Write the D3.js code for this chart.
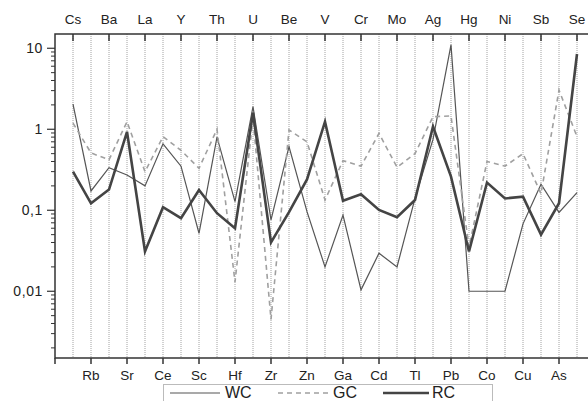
<!DOCTYPE html>
<html>
<head>
<meta charset="utf-8">
<script src="https://cdn.jsdelivr.net/npm/d3@7"></script>
<style>
  body { margin: 0; background: #fff; }
  svg { display: block; font-family: Arial, "Liberation Sans", sans-serif; }
</style>
</head>
<body>
<div id="chart"></div>
<script>
const elements = ["Cs","Rb","Ba","Sr","La","Ce","Y","Sc","Th","Hf","U","Zr","Be","Zn","V","Ga","Cr","Cd","Mo","Tl","Ag","Pb","Hg","Co","Ni","Cu","Sb","As","Se"];

const wc = [2.05,0.173,0.336,0.273,0.20,0.66,0.35,0.052,0.80,0.128,1.9,0.076,0.61,0.096,0.020,0.087,0.0104,0.0295,0.020,0.14,0.75,11,0.01,0.01,0.01,0.068,0.21,0.094,0.165];
const gc = [1.19,0.51,0.42,1.24,0.30,0.81,0.55,0.33,1.0,0.013,1.4,0.0045,0.98,0.70,0.134,0.41,0.35,0.89,0.34,0.5,1.43,1.46,0.035,0.40,0.35,0.50,0.16,3.05,0.81];
const rc = [0.30,0.122,0.18,0.93,0.031,0.109,0.080,0.178,0.092,0.060,1.6,0.040,0.095,0.24,1.24,0.131,0.158,0.101,0.082,0.134,1.08,0.26,0.031,0.22,0.14,0.147,0.050,0.122,8.5];

const majorTicks = [0.01, 0.1, 1, 10];

const width = 588, height = 401;
const frame = { left: 55, right: 595, top: 34, bottom: 358 };

const svg = d3.select("#chart").append("svg")
  .attr("width", width)
  .attr("height", height);

const x = d3.scalePoint().domain(elements).range([73, 577]);
const y = d3.scaleLog().domain([0.0015, 15]).range([frame.bottom, frame.top]);

// dotted verticals at every element
svg.append("g")
  .selectAll("line")
  .data(elements)
  .join("line")
  .attr("x1", d => x(d)).attr("x2", d => x(d))
  .attr("y1", frame.top).attr("y2", frame.bottom)
  .attr("stroke", "#8a8a8a")
  .attr("stroke-width", 0.8)
  .attr("stroke-dasharray", "1,1");

// minor ticks on the log axis
const minorTicks = [];
[0.001, 0.01, 0.1, 1, 10].forEach(base => {
  for (let k = 2; k <= 9; k++) {
    const v = base * k;
    if (v >= y.domain()[0] && v <= y.domain()[1]) minorTicks.push(v);
  }
});

const axisG = svg.append("g").attr("stroke", "#333");

axisG.selectAll(".minor")
  .data(minorTicks)
  .join("line")
  .attr("class", "minor")
  .attr("x1", frame.left - 4).attr("x2", frame.left)
  .attr("y1", d => y(d)).attr("y2", d => y(d))
  .attr("stroke-width", 1);

axisG.selectAll(".major")
  .data(majorTicks)
  .join("line")
  .attr("class", "major")
  .attr("x1", frame.left - 8).attr("x2", frame.left)
  .attr("y1", d => y(d)).attr("y2", d => y(d))
  .attr("stroke-width", 1.2);

svg.append("g")
  .selectAll("text")
  .data(majorTicks)
  .join("text")
  .attr("x", frame.left - 12)
  .attr("y", d => y(d) + 5)
  .attr("text-anchor", "end")
  .attr("font-size", 14)
  .attr("letter-spacing", 0.6)
  .attr("fill", "#222")
  .text(d => String(d).replace(".", ","));

// frame lines: left, top, bottom
svg.append("path")
  .attr("d", `M${frame.right},${frame.top}H${frame.left}V${frame.bottom}H${frame.right}`)
  .attr("fill", "none")
  .attr("stroke", "#333")
  .attr("stroke-width", 1.5);

const topEls = elements.filter((d, i) => i % 2 === 0);
const bottomEls = elements.filter((d, i) => i % 2 === 1);

// top ticks point inward, bottom ticks point outward
axisG.selectAll(".ttick")
  .data(topEls)
  .join("line")
  .attr("class", "ttick")
  .attr("x1", d => x(d)).attr("x2", d => x(d))
  .attr("y1", frame.top).attr("y2", frame.top + 7)
  .attr("stroke-width", 1.5);

axisG.selectAll(".btick")
  .data(bottomEls.concat(["__left"]))
  .join("line")
  .attr("class", "btick")
  .attr("x1", d => d === "__left" ? frame.left : x(d))
  .attr("x2", d => d === "__left" ? frame.left : x(d))
  .attr("y1", frame.bottom).attr("y2", frame.bottom + 6)
  .attr("stroke-width", 1.5);

svg.append("g")
  .selectAll("text")
  .data(topEls)
  .join("text")
  .attr("x", d => x(d))
  .attr("y", 24)
  .attr("text-anchor", "middle")
  .attr("font-size", 13.5)
  .attr("fill", "#222")
  .text(d => d);

svg.append("g")
  .selectAll("text")
  .data(bottomEls)
  .join("text")
  .attr("x", d => x(d))
  .attr("y", 380)
  .attr("text-anchor", "middle")
  .attr("font-size", 13.5)
  .attr("fill", "#222")
  .text(d => d);

// series
const series = [
  { name: "WC", values: wc, color: "#555", width: 1.2, dash: null },
  { name: "GC", values: gc, color: "#a0a0a0", width: 1.6, dash: "5,4" },
  { name: "RC", values: rc, color: "#444", width: 2.6, dash: null }
];

const line = d3.line()
  .x((d, i) => x(elements[i]))
  .y(d => y(d));

svg.append("g")
  .selectAll("path")
  .data(series)
  .join("path")
  .attr("d", d => line(d.values))
  .attr("fill", "none")
  .attr("stroke", d => d.color)
  .attr("stroke-width", d => d.width)
  .attr("stroke-dasharray", d => d.dash)
  .attr("stroke-linejoin", "miter");

// legend
const legend = svg.append("g");
legend.append("rect")
  .attr("x", 163.5).attr("y", 384.5)
  .attr("width", 329).attr("height", 30)
  .attr("fill", "#fff")
  .attr("stroke", "#bbb")
  .attr("stroke-width", 1);

const legendItems = [
  { s: series[0], x1: 170, x2: 220, tx: 225 },
  { s: series[1], x1: 278, x2: 330, tx: 333 },
  { s: series[2], x1: 383, x2: 429, tx: 432 }
];

legendItems.forEach(it => {
  legend.append("line")
    .attr("x1", it.x1).attr("x2", it.x2)
    .attr("y1", 393).attr("y2", 393)
    .attr("stroke", it.s.color)
    .attr("stroke-width", it.s.width)
    .attr("stroke-dasharray", it.s.dash);
  legend.append("text")
    .attr("x", it.tx).attr("y", 398)
    .attr("font-size", 16)
    .attr("fill", "#222")
    .text(it.s.name);
});
</script>
</body>
</html>
